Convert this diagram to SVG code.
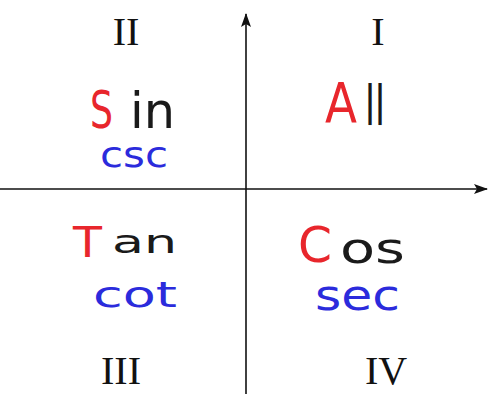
<svg xmlns="http://www.w3.org/2000/svg" width="488" height="394" viewBox="0 0 488 394">
<style>
.roman{font-family:"Liberation Serif","Times New Roman",serif;font-size:40px;fill:#111;text-anchor:middle}
.hw{font-family:"DejaVu Sans","Liberation Sans",sans-serif}
.red{fill:#e8262c}
.blk{fill:#1a1a1a}
.blue{fill:#2b2bdc}
.axis{stroke:#111;stroke-width:1.6;fill:none}
</style>
<defs>
<marker id="arrow" viewBox="0 0 14 10" refX="13" refY="5" markerWidth="14" markerHeight="10" markerUnits="userSpaceOnUse" orient="auto">
<path d="M0,0 L14,5 L0,10 L3,5 Z" fill="#111"/>
</marker>
</defs>
<rect width="488" height="394" fill="#fff"/>
<g id="connectors">
<line class="axis" x1="0" y1="189" x2="487" y2="189" marker-end="url(#arrow)"/>
<line class="axis" x1="246" y1="394" x2="246" y2="14" marker-end="url(#arrow)"/>
</g>
<g id="q1">
<text class="roman" x="378" y="45">I</text>
<text class="hw red" x="325" y="122" font-size="56" textLength="32" lengthAdjust="spacingAndGlyphs">A</text>
<text class="hw blk" x="365" y="125" font-size="56" textLength="20" lengthAdjust="spacingAndGlyphs">ll</text>
</g>
<g id="q2">
<text class="roman" x="126" y="45">II</text>
<text class="hw red" x="90" y="128" font-size="52" textLength="23" lengthAdjust="spacingAndGlyphs">S</text>
<text class="hw blk" x="130" y="128" font-size="50" textLength="45" lengthAdjust="spacingAndGlyphs">in</text>
<text class="hw blue" x="100" y="167" font-size="36" textLength="68" lengthAdjust="spacingAndGlyphs">csc</text>
</g>
<g id="q3">
<text class="roman" x="121" y="384">III</text>
<text class="hw red" x="73" y="257" font-size="42" textLength="29" lengthAdjust="spacingAndGlyphs">T</text>
<text class="hw blk" x="112" y="253" font-size="32" textLength="65" lengthAdjust="spacingAndGlyphs">an</text>
<text class="hw blue" x="93" y="307" font-size="36" textLength="84" lengthAdjust="spacingAndGlyphs">cot</text>
</g>
<g id="q4">
<text class="roman" x="386" y="384">IV</text>
<text class="hw red" x="298" y="262" font-size="50" textLength="34" lengthAdjust="spacingAndGlyphs">C</text>
<text class="hw blk" x="340" y="263" font-size="42" textLength="65" lengthAdjust="spacingAndGlyphs">os</text>
<text class="hw blue" x="315" y="310" font-size="42" textLength="85" lengthAdjust="spacingAndGlyphs">sec</text>
</g>
</svg>
